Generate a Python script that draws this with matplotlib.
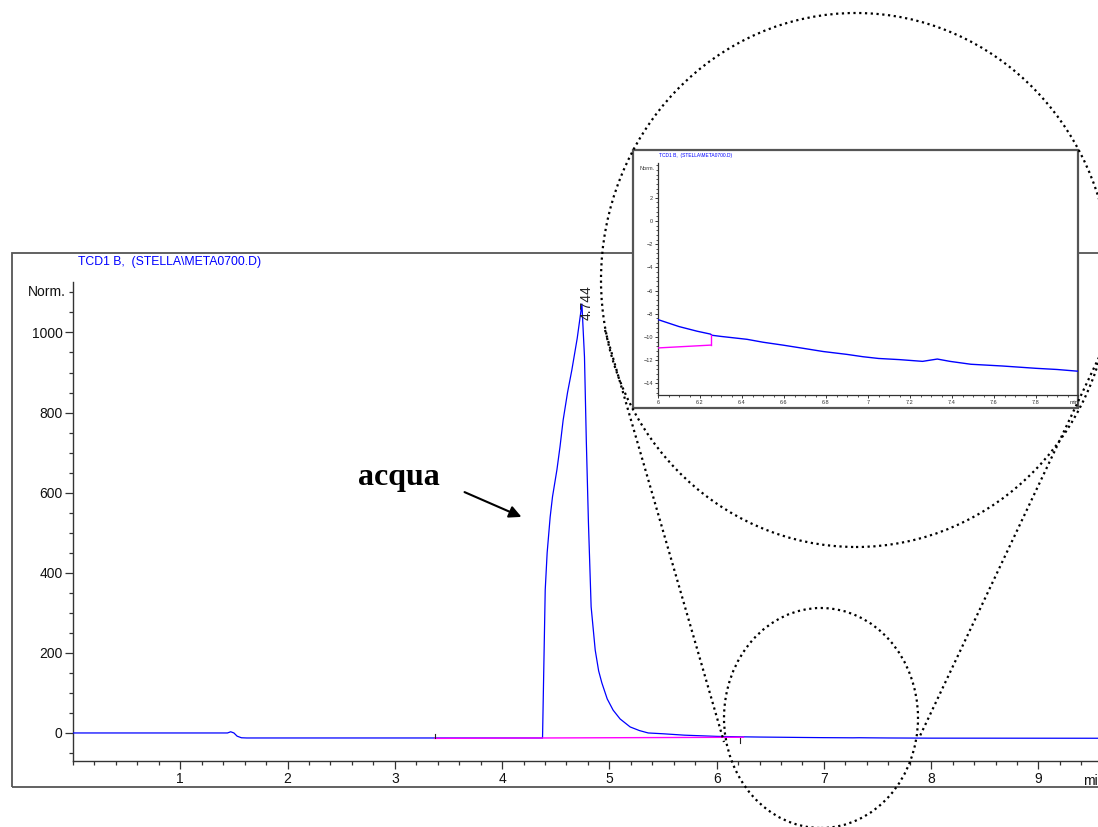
import matplotlib
matplotlib.use("Agg")
import matplotlib.pyplot as plt
from matplotlib.patches import Rectangle, Ellipse
from matplotlib.lines import Line2D
from matplotlib.ticker import MultipleLocator, FixedLocator

# ---------------- data ----------------
main_t = [0.0, 0.3, 0.6, 0.9, 1.2, 1.44, 1.47, 1.50, 1.53, 1.57, 1.62, 2.5, 3.37, 4.0, 4.377,
          4.39, 4.402, 4.42, 4.448, 4.47, 4.511, 4.54, 4.569, 4.61, 4.650, 4.70, 4.744,
          4.755, 4.768, 4.785, 4.805, 4.830, 4.868, 4.90, 4.930,
          4.98, 5.035, 5.10, 5.194, 5.28, 5.362, 5.5, 5.7, 6.0, 6.2, 6.4, 6.6, 6.8, 7.0,
          7.2, 7.27, 7.33, 7.4, 7.6, 7.8, 8.0, 8.5, 9.0, 9.6]
main_v = [0.0, 0.0, 0.0, 0.0, 0.0, 0.0, 3.0, 0.0, -8.0, -12.0, -12.5, -12.5, -12.5, -12.5, -12.5,
          180, 357, 450, 539, 590, 657, 715, 781, 850, 906, 985, 1071,
          1010, 939, 730, 524, 315, 207, 155, 125,
          85, 57, 35, 15, 6, 0, -2, -5.5, -8.5, -9.5, -10.2, -10.7, -11.25, -11.7,
          -12.0, -12.1, -11.9, -12.1, -12.5, -12.7, -12.95, -13.0, -13.1, -13.2]

zoom_t = [6.0, 6.05, 6.1, 6.186, 6.25, 6.257, 6.3, 6.424, 6.5, 6.595, 6.7, 6.786, 6.9, 6.976,
          7.05, 7.15, 7.26, 7.33, 7.39, 7.49, 7.64, 7.80, 7.9, 8.0]
zoom_v = [-8.5, -8.8, -9.1, -9.5, -9.75, -9.85, -9.95, -10.2, -10.45, -10.7, -11.0, -11.25, -11.5, -11.7,
          -11.85, -11.95, -12.1, -11.9, -12.1, -12.35, -12.5, -12.7, -12.8, -12.95]

base_t = [3.37, 6.25]
base_v = [-13.5, -10.7]

peak_time = 4.744
peak_label = "4.744"
title = "TCD1 B,  (STELLA\\META0700.D)"

main_xticks = [1, 2, 3, 4, 5, 6, 7, 8, 9]
main_yticks = [0, 200, 400, 600, 800, 1000]
zoom_xticks = [6.0, 6.2, 6.4, 6.6, 6.8, 7.0, 7.2, 7.4, 7.6, 7.8]
zoom_xlabels = ["6", "6.2", "6.4", "6.6", "6.8", "7", "7.2", "7.4", "7.6", "7.8"]
zoom_yticks = [-14, -12, -10, -8, -6, -4, -2, 0, 2]

# ---------------- figure ----------------
W, H = 1098, 827
fig = plt.figure(figsize=(W / 100, H / 100), dpi=100)
plt.rcParams['font.family'] = ['Liberation Sans', 'DejaVu Sans']

def fx(x):
    return x / W

def fy(y):
    return 1 - y / H

BLUE = (0, 0, 1)
MAG = (1, 0, 1)
AX = '#333333'

# outer frame of main chromatogram
fig.add_artist(Rectangle((fx(12), fy(787)), fx(1120) - fx(12), fy(253) - fy(787),
                         transform=fig.transFigure, fill=False, edgecolor='#555555',
                         lw=1.3, zorder=0.5))

# main axes
ax = fig.add_axes([fx(73), fy(761), fx(1098) - fx(73), fy(282) - fy(761)])
ax.set_zorder(0.6)
ax.patch.set_alpha(0)
ax.set_xlim(0, 9.555)
ax.set_ylim(-70, 1126)
for s in ['top', 'right']:
    ax.spines[s].set_visible(False)
for s in ['left', 'bottom']:
    ax.spines[s].set_color(AX)
    ax.spines[s].set_linewidth(1.0)
ax.xaxis.set_major_locator(FixedLocator(main_xticks))
ax.xaxis.set_minor_locator(MultipleLocator(0.2))
ax.yaxis.set_major_locator(FixedLocator(main_yticks))
ax.yaxis.set_minor_locator(MultipleLocator(50))
ax.tick_params(axis='both', which='major', direction='out', length=6, width=0.9,
               color=AX, labelsize=10, labelcolor='#111111', pad=1.5)
ax.tick_params(axis='both', which='minor', direction='out', length=3, width=0.9, color=AX)
ax.tick_params(axis='x', which='major', pad=2)

ax.plot(main_t, main_v, color=BLUE, lw=0.9, zorder=3)
ax.plot(base_t, base_v, color=MAG, lw=1.0, zorder=4)
ax.plot([base_t[0], base_t[0]], [base_v[0], base_v[0] + 12], color='#222222', lw=0.8, zorder=5)
ax.plot([base_t[1] - 0.03, base_t[1] - 0.03], [base_v[1] - 2, base_v[1] - 14], color='#222222', lw=0.8, zorder=5)

ax.text(peak_time + 0.04, 1031, peak_label, rotation=90, ha='center', va='bottom',
        fontsize=10, color='#222222')
fig.text(fx(1083), fy(781), "min", ha='left', va='center', fontsize=10, color='#111111')
fig.text(fx(66), fy(292), "Norm.", ha='right', va='center', fontsize=10, color='#111111')
fig.text(fx(78), fy(262), title, ha='left', va='center', fontsize=8.8, color=BLUE)

# annotation
fig.text(fx(358), fy(477), "acqua", ha='left', va='center', fontsize=23,
         family=['Liberation Serif'], fontweight='bold', color='black')
ax.annotate('', xy=(fx(524), fy(518)), xytext=(fx(462), fy(491)),
            xycoords='figure fraction', textcoords='figure fraction',
            arrowprops=dict(arrowstyle='-|>', color='black', lw=1.5, mutation_scale=18))

# inset frame
fig.add_artist(Rectangle((fx(633), fy(408)), fx(1078) - fx(633), fy(150) - fy(408),
                         transform=fig.transFigure, facecolor='white', edgecolor='#555555',
                         lw=1.6, zorder=1))

ax2 = fig.add_axes([fx(658), fy(395), fx(1078) - fx(658), fy(163) - fy(395)])
ax2.set_zorder(2)
ax2.patch.set_alpha(0)
ax2.set_xlim(6, 8)
ax2.set_ylim(-15, 5)
for s in ['top', 'right']:
    ax2.spines[s].set_visible(False)
for s in ['left', 'bottom']:
    ax2.spines[s].set_color(AX)
    ax2.spines[s].set_linewidth(0.9)
ax2.xaxis.set_major_locator(FixedLocator(zoom_xticks))
ax2.set_xticklabels(zoom_xlabels)
ax2.xaxis.set_minor_locator(MultipleLocator(0.05))
ax2.yaxis.set_major_locator(FixedLocator(zoom_yticks))
ax2.yaxis.set_minor_locator(MultipleLocator(0.4))
ax2.tick_params(axis='both', which='major', direction='out', length=2.5, width=0.7,
                color=AX, labelsize=4, labelcolor='#333333', pad=1)
ax2.tick_params(axis='both', which='minor', direction='out', length=1.3, width=0.6, color=AX)
ax2.plot(zoom_t, zoom_v, color=BLUE, lw=1.0, zorder=3)
ax2.plot([6.0, base_t[1]], [base_v[0] + (base_v[1] - base_v[0]) * (6.0 - base_t[0]) / (base_t[1] - base_t[0]),
                            base_v[1]], color=MAG, lw=1.0, zorder=4)
ax2.plot([base_t[1], base_t[1]], [base_v[1], -9.8], color=MAG, lw=1.0, zorder=4)
fig.text(fx(655), fy(168), "Norm.", ha='right', va='center', fontsize=4, color='#333333', zorder=3)
fig.text(fx(1070), fy(403), "min", ha='left', va='center', fontsize=4, color='#333333', zorder=3)
fig.text(fx(659), fy(155), title, ha='left', va='center', fontsize=3.5, color=BLUE, zorder=3)

# magnifier ellipses and tangent lines
DOT = (0, (1, 1.6))
fig.add_artist(Ellipse((fx(856), fy(280)), fx(2 * 255), 2 * 267 / H, transform=fig.transFigure,
                       fill=False, edgecolor='black', lw=1.6, linestyle=DOT, zorder=6))
fig.add_artist(Ellipse((fx(821), fy(718)), fx(2 * 97), 2 * 110 / H, transform=fig.transFigure,
                       fill=False, edgecolor='black', lw=1.6, linestyle=DOT, zorder=6))
fig.add_artist(Line2D([fx(605), fx(724)], [fy(330), fy(742)], transform=fig.transFigure,
                      color='black', lw=1.6, linestyle=DOT, zorder=6))
fig.add_artist(Line2D([fx(1110), fx(919)], [fy(334), fy(738)], transform=fig.transFigure,
                      color='black', lw=1.6, linestyle=DOT, zorder=6))

fig.savefig("out.png", dpi=100)
